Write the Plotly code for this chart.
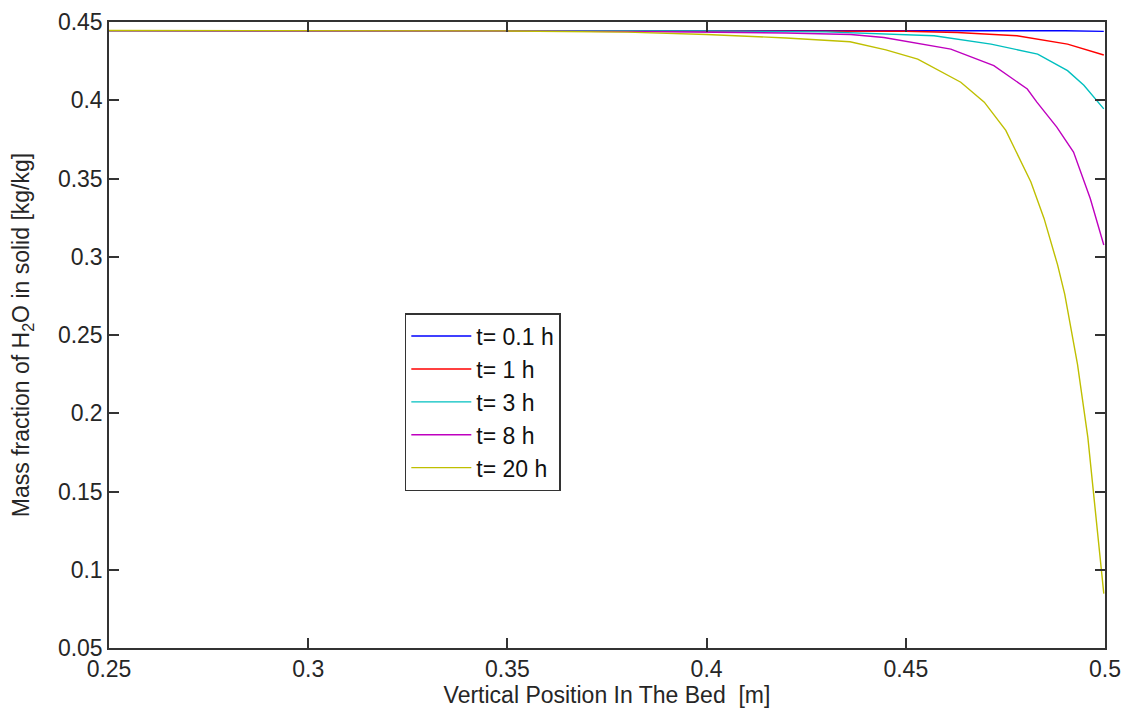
import plotly.graph_objects as go

# t = 0.1 h
x_01 = [0.25, 0.30, 0.35, 0.40, 0.45, 0.49, 0.4997]
y_01 = [0.4445, 0.4445, 0.4445, 0.4445, 0.4445, 0.4444, 0.4440]
# t = 1 h
x_1 = [0.25, 0.30, 0.35, 0.40, 0.45, 0.4629, 0.4779, 0.4906, 0.4997]
y_1 = [0.4445, 0.4445, 0.4444, 0.4444, 0.4441, 0.4433, 0.4412, 0.4359, 0.4289]
# t = 3 h
x_3 = [0.25, 0.30, 0.35, 0.40, 0.43, 0.4571, 0.4714, 0.4831, 0.4906, 0.4947, 0.4997]
y_3 = [0.4445, 0.4445, 0.4444, 0.4443, 0.4437, 0.4412, 0.4359, 0.4295, 0.4189, 0.4096, 0.3945]
# t = 8 h
x_8 = [0.25, 0.30, 0.35, 0.39, 0.42, 0.4362, 0.4445, 0.4613, 0.4721, 0.4805, 0.4829,
       0.4879, 0.4921, 0.4963, 0.4997]
y_8 = [0.4445, 0.4445, 0.4443, 0.4438, 0.4430, 0.4420, 0.4401, 0.4327, 0.4221, 0.4072, 0.3988,
       0.3828, 0.3669, 0.3372, 0.3075]
# t = 20 h
x_20 = [0.25, 0.30, 0.35, 0.38, 0.40, 0.42, 0.436, 0.445, 0.453, 0.4638, 0.4697, 0.4751,
        0.4814, 0.4847, 0.4881, 0.4899, 0.4931, 0.4957, 0.4973, 0.4990, 0.4997]
y_20 = [0.4446, 0.4446, 0.4443, 0.4435, 0.4420, 0.4398, 0.4374, 0.4322, 0.4263, 0.4115, 0.3988,
        0.3807, 0.3478, 0.3245, 0.2948, 0.2760, 0.2312, 0.1844, 0.1463, 0.1038, 0.0847]

series = [
    ("t= 0.1 h", x_01, y_01, "#0000FF"),
    ("t= 1 h", x_1, y_1, "#FF0000"),
    ("t= 3 h", x_3, y_3, "#00BFBF"),
    ("t= 8 h", x_8, y_8, "#BF00BF"),
    ("t= 20 h", x_20, y_20, "#BFBF00"),
]

x_ticks = [0.25, 0.3, 0.35, 0.4, 0.45, 0.5]
x_ticktext = ["0.25", "0.3", "0.35", "0.4", "0.45", "0.5"]
y_ticks = [0.05, 0.1, 0.15, 0.2, 0.25, 0.3, 0.35, 0.4, 0.45]
y_ticktext = ["0.05", "0.1", "0.15", "0.2", "0.25", "0.3", "0.35", "0.4", "0.45"]

FONT = "Liberation Sans, Arial, sans-serif"
TXT = "#262626"
FS = 23

fig = go.Figure()
for name, xs, ys, col in series:
    fig.add_trace(go.Scatter(x=xs, y=ys, mode="lines", name=name,
                             line=dict(color=col, width=1.4)))

axis_common = dict(showgrid=False, zeroline=False, showline=True, linecolor="#333333",
                   linewidth=1.5, mirror="allticks", ticks="inside", ticklen=10,
                   tickwidth=1.5, tickcolor="#333333", automargin=False,
                   ticklabeloverflow="allow",
                   tickfont=dict(family=FONT, size=FS, color=TXT))

fig.update_xaxes(range=[0.25, 0.5], tickvals=x_ticks, ticktext=x_ticktext,
                 title=dict(text="Vertical Position In The Bed  [m]",
                            font=dict(family=FONT, size=FS, color=TXT), standoff=4),
                 **axis_common)
fig.update_yaxes(range=[0.05, 0.45], tickvals=y_ticks, ticktext=y_ticktext,
                 title=dict(text="Mass fraction of H<sub>2</sub>O in solid [kg/kg]",
                            font=dict(family=FONT, size=FS, color=TXT), standoff=24),
                 **axis_common)

fig.update_layout(
    width=1130, height=717,
    margin=dict(l=101, r=33, t=14, b=77),
    paper_bgcolor="white", plot_bgcolor="white",
    font=dict(family=FONT, size=FS, color=TXT),
    legend=dict(x=0.297, y=0.535, xanchor="left", yanchor="top",
                bgcolor="white", bordercolor="#333333", borderwidth=1.5,
                font=dict(family=FONT, size=FS, color="#111111"),
                itemwidth=60, tracegroupgap=0),
    showlegend=True,
)

fig.write_html("out.html")
